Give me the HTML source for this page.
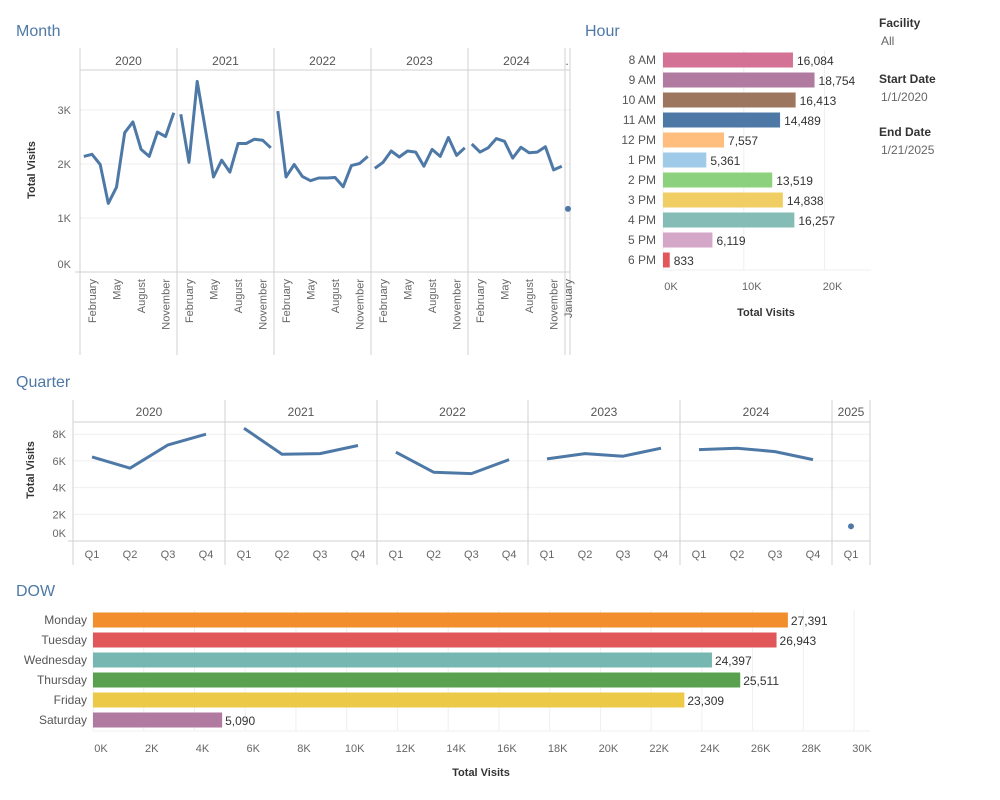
<!DOCTYPE html>
<html><head><meta charset="utf-8"><style>
body{margin:0;width:1000px;height:800px;background:#fff;font-family:"Liberation Sans",sans-serif;overflow:hidden}
svg{position:absolute;left:0;top:0}
</style></head><body>
<svg id="c" width="1000" height="800" xmlns="http://www.w3.org/2000/svg"></svg>
<script>
const monthYears=["2020","2021","2022","2023","2024"];
const monthVals=[
[2140,2180,1990,1270,1570,2580,2780,2270,2140,2590,2510,2950],
[2920,2030,3530,2650,1760,2070,1850,2380,2380,2460,2440,2300],
[2980,1760,1990,1770,1690,1740,1740,1750,1580,1970,2010,2140],
[1920,2030,2240,2130,2240,2220,1960,2270,2140,2490,2160,2300],
[2370,2220,2300,2470,2420,2110,2310,2210,2220,2320,1890,1960]];
const month2025=[1170];
const monthTicks=[0,1000,2000,3000];
const monthTickLabels=["0K","1K","2K","3K"];
const monthLabels=["February","May","August","November"];
const qYears=["2020","2021","2022","2023","2024","2025"];
const qVals=[[6300,5450,7200,8000],[8450,6500,6550,7150],[6650,5150,5050,6100],[6150,6550,6350,6950],[6850,6950,6700,6100],[1100]];
const qTicks=[0,2000,4000,6000,8000];
const qTickLabels=["0K","2K","4K","6K","8K"];
const hours=["8 AM","9 AM","10 AM","11 AM","12 PM","1 PM","2 PM","3 PM","4 PM","5 PM","6 PM"];
const hourVals=[16084,18754,16413,14489,7557,5361,13519,14838,16257,6119,833];
const hourColors=["#d37295","#b07aa1","#9d7660","#4e79a7","#ffbe7d","#a0cbe8","#8cd17d","#f1ce63","#86bcb6","#d4a6c8","#e15759"];
const hourTicks=[0,10000,20000];
const days=["Monday","Tuesday","Wednesday","Thursday","Friday","Saturday"];
const dayVals=[27391,26943,24397,25511,23309,5090];
const dayColors=["#f28e2b","#e15759","#76b7b2","#59a14f","#edc948","#b07aa1"];
const dayTicks=[0,2000,4000,6000,8000,10000,12000,14000,16000,18000,20000,22000,24000,26000,28000,30000];

const S=document.getElementById('c');
const NS="http://www.w3.org/2000/svg";
function el(t,a,txt){const e=document.createElementNS(NS,t);for(const k in a)e.setAttribute(k,a[k]);if(txt!=null)e.textContent=txt;S.appendChild(e);return e;}
function fmt(v){return v.toLocaleString('en-US');}
const G="#d0d0d0",GL="#efefef",TX="#666",BL="#4e79a7";
let e;
e=el('text',{x:16,y:36,'font-size':16,fill:BL},'Month');
e=el('text',{x:585,y:36,'font-size':16,fill:BL},'Hour');
e=el('text',{x:16,y:387,'font-size':16,fill:BL},'Quarter');
e=el('text',{x:16,y:596,'font-size':16,fill:BL},'DOW');
[["Facility","All",27],["Start Date","1/1/2020",83],["End Date","1/21/2025",136]].forEach(f=>{
 e=el('text',{x:879,y:f[2],'font-size':12,fill:'#333','font-weight':'bold'},f[0]);
 e=el('text',{x:881,y:f[2]+18,'font-size':12,fill:TX},f[1]);
});
// Month
const mX0=80,mPW=97,mTop=70,mBot=272;
const my=v=>mBot-v*0.054;
monthTicks.forEach((t,i)=>{
 e=el('line',{x1:mX0,x2:570,y1:my(t),y2:my(t),stroke:GL});
 e=el('text',{x:71,y:t===0?268:my(t)+4,'font-size':11,fill:TX,'text-anchor':'end'},monthTickLabels[i]);
});
e=el('text',{x:35,y:170,'font-size':11,fill:'#333','font-weight':'bold','text-anchor':'middle',transform:'rotate(-90 35 170)'},'Total Visits');
e=el('line',{x1:mX0,x2:570,y1:mTop,y2:mTop,stroke:G});
e=el('line',{x1:75,x2:570,y1:mBot,y2:mBot,stroke:G});
for(let i=0;i<=6;i++){const x=i<6?mX0+i*mPW:570;
 e=el('line',{x1:x,x2:x,y1:48,y2:355,stroke:G});}
const mStep=8.18;
monthYears.forEach((yr,p)=>{
 const px=mX0+p*mPW;
 e=el('text',{x:px+mPW/2,y:65,'font-size':12,fill:'#555','text-anchor':'middle'},yr);
 const pts=monthVals[p].map((v,i)=>(px+3.8+i*mStep).toFixed(1)+','+my(v).toFixed(1)).join(' ');
 e=el('polyline',{points:pts,fill:'none',stroke:BL,'stroke-width':3,'stroke-linejoin':'round'});
 monthLabels.forEach((m,k)=>{const x=px+3.8+(1+3*k)*mStep+4;
  e=el('text',{x:x,y:279,'font-size':11,fill:TX,'text-anchor':'end',transform:`rotate(-90 ${x} 279)`},m);});
});
e=el('text',{x:567,y:65,'font-size':12,fill:'#555','text-anchor':'middle'},'.');
e=el('circle',{cx:568,cy:my(month2025[0]),r:3,fill:BL});
e=el('text',{x:572,y:279,'font-size':11,fill:TX,'text-anchor':'end',transform:'rotate(-90 572 279)'},'January');
// Hour
const hX0=663,hK=0.00808;
const hx=v=>hX0+v*hK;
hourTicks.forEach(t=>{
 e=el('line',{x1:hx(t),x2:hx(t),y1:50,y2:270,stroke:GL});
 e=el('text',{x:hx(t)+8,y:290,'font-size':11,fill:TX,'text-anchor':'middle'},(t/1000)+'K');
});
e=el('line',{x1:hX0,x2:871,y1:270,y2:270,stroke:GL});
hours.forEach((h,i)=>{const cy=60+i*20;
 e=el('text',{x:656,y:cy+4,'font-size':12,fill:'#555','text-anchor':'end'},h);
 e=el('rect',{x:hX0,y:cy-7.5,width:hx(hourVals[i])-hX0,height:15,fill:hourColors[i]});
 e=el('text',{x:hx(hourVals[i])+4,y:cy+5,'font-size':12,fill:'#333'},fmt(hourVals[i]));
});
e=el('text',{x:766,y:316,'font-size':11,fill:'#333','font-weight':'bold','text-anchor':'middle'},'Total Visits');
// Quarter
const qX=[73,225,377,528,680,832,870],qTop=422,qBot=541;
const qy=v=>qBot-v*0.01335;
qTicks.forEach((t,i)=>{
 e=el('line',{x1:73,x2:870,y1:qy(t),y2:qy(t),stroke:GL});
 e=el('text',{x:66,y:t===0?537:qy(t)+4,'font-size':11,fill:TX,'text-anchor':'end'},qTickLabels[i]);
});
e=el('text',{x:34,y:470,'font-size':11,fill:'#333','font-weight':'bold','text-anchor':'middle',transform:'rotate(-90 34 470)'},'Total Visits');
e=el('line',{x1:73,x2:870,y1:qTop,y2:qTop,stroke:G});
e=el('line',{x1:68,x2:870,y1:qBot,y2:qBot,stroke:G});
qX.forEach(x=>{e=el('line',{x1:x,x2:x,y1:400,y2:565,stroke:G});});
qYears.forEach((yr,p)=>{
 const x0=qX[p],w=qX[p+1]-x0,n=qVals[p].length,step=w/n;
 e=el('text',{x:x0+w/2,y:416,'font-size':12,fill:'#555','text-anchor':'middle'},yr);
 const xs=qVals[p].map((v,i)=>x0+step*(i+0.5));
 qVals[p].forEach((v,i)=>{e=el('text',{x:xs[i],y:558,'font-size':11,fill:TX,'text-anchor':'middle'},'Q'+(i+1));});
 if(n>1){e=el('polyline',{points:qVals[p].map((v,i)=>xs[i].toFixed(1)+','+qy(v).toFixed(1)).join(' '),fill:'none',stroke:BL,'stroke-width':3,'stroke-linejoin':'round'});}
 else{e=el('circle',{cx:xs[0],cy:qy(qVals[p][0]),r:3,fill:BL});}
});
// DOW
const dX0=93,dK=0.02537;
const dx=v=>dX0+v*dK;
dayTicks.forEach(t=>{
 e=el('line',{x1:dx(t),x2:dx(t),y1:610,y2:731,stroke:GL});
 e=el('text',{x:dx(t)+8,y:752,'font-size':11,fill:TX,'text-anchor':'middle'},(t/1000)+'K');
});
e=el('line',{x1:dX0,x2:870,y1:731,y2:731,stroke:GL});
days.forEach((d,i)=>{const cy=620+i*20;
 e=el('text',{x:87,y:cy+4,'font-size':12,fill:'#555','text-anchor':'end'},d);
 e=el('rect',{x:dX0,y:cy-7.5,width:dx(dayVals[i])-dX0,height:15,fill:dayColors[i]});
 e=el('text',{x:dx(dayVals[i])+3,y:cy+5,'font-size':12,fill:'#333'},fmt(dayVals[i]));
});
e=el('text',{x:481,y:776,'font-size':11,fill:'#333','font-weight':'bold','text-anchor':'middle'},'Total Visits');
</script>
</body></html>
